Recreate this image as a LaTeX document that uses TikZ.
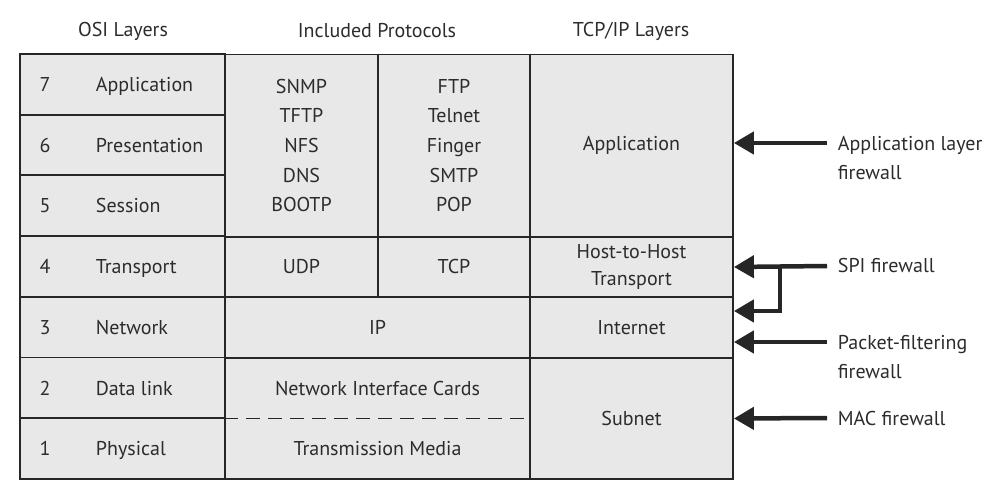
\documentclass[tikz,border=0pt]{standalone}
\usepackage{fontspec}
\setmainfont{PT Sans}
\usetikzlibrary{arrows.meta}
\definecolor{cellgray}{HTML}{E8E8E8}
\definecolor{inkgray}{HTML}{2C2C2C}
\begin{document}
\begin{tikzpicture}[x=1pt, y=-1pt, line width=1.8pt,
  cell/.style = {draw=black!85, fill=cellgray, inner sep=0pt},
  txt/.style = {font=\fontsize{20}{29.6}\selectfont, text=inkgray, align=center, inner sep=0pt},
  fwlabel/.style = {txt, align=left, anchor=west},
  fw/.style = {line width=4.5pt, black!85, -{Triangle[length=20pt,width=22pt]}}]
	\useasboundingbox (0,0) rectangle (1006,502);
	
	% column headings
	\node[txt] (hosi) at (123,31) {OSI Layers};
	\node[txt] (hprot) at (377,31) {Included Protocols};
	\node[txt] (htcp) at (631,31) {TCP/IP Layers};
	
	% OSI layers
	\foreach \n/\name [count=\i from 0] in {7/Application,6/Presentation,5/Session,4/Transport,3/Network,2/Data link,1/Physical}{
		\node[cell, minimum width=205pt, minimum height=60.7pt] (osi\n) at (122.5,{84.35+60.7*\i}) {};
		\node[txt, anchor=base] (num\n) at (45,{91.5+60.7*\i}) {\n};
		\node[txt, anchor=base west] (lay\n) at (95,{91.5+60.7*\i}) {\name};
	}
	
	% included protocols
	\node[cell, minimum width=153pt, minimum height=182pt] (udpapps) at (301.5,145.5) {};
	\node[txt] at (udpapps) {SNMP\\TFTP\\NFS\\DNS\\BOOTP};
	\node[cell, minimum width=152pt, minimum height=182pt] (tcpapps) at (454,145.5) {};
	\node[txt] at (tcpapps) {FTP\\Telnet\\Finger\\SMTP\\POP};
	\node[cell, minimum width=153pt, minimum height=60.7pt] (udp) at (301.5,267) {};
	\node[txt] at (udp) {UDP};
	\node[cell, minimum width=152pt, minimum height=60.7pt] (tcp) at (454,267) {};
	\node[txt] at (tcp) {TCP};
	\node[cell, minimum width=305pt, minimum height=60.7pt] (ip) at (377.5,327.5) {};
	\node[txt] at (ip) {IP};
	\node[cell, minimum width=305pt, minimum height=121.4pt] (link) at (377.5,418.5) {};
	\draw[dash pattern=on 14pt off 8pt, black!85] (link.west) -- (link.east);
	\node[txt] (nic) at (377.5,388.5) {Network Interface Cards};
	\node[txt] (media) at (377.5,449) {Transmission Media};
	
	% TCP/IP layers
	\node[cell, minimum width=203pt, minimum height=182pt] (tcpapp) at (631.5,145.5) {};
	\node[txt] at (tcpapp) {Application};
	\node[cell, minimum width=203pt, minimum height=60.7pt] (tcphost) at (631.5,267) {};
	\node[txt, font=\fontsize{20}{27}\selectfont] at (tcphost) {Host-to-Host\\Transport};
	\node[cell, minimum width=203pt, minimum height=60.7pt] (tcpnet) at (631.5,327.5) {};
	\node[txt] at (tcpnet) {Internet};
	\node[cell, minimum width=203pt, minimum height=121.4pt] (tcpsub) at (631.5,418.5) {};
	\node[txt] at (tcpsub) {Subnet};
	
	% firewalls
	\node[fwlabel] (appfw) at (837,158) {Application layer\\firewall};
	\node[fwlabel] (spifw) at (837,266) {SPI firewall};
	\node[fwlabel] (pktfw) at (837,357) {Packet-filtering\\firewall};
	\node[fwlabel] (macfw) at (837,418) {MAC firewall};
	\coordinate (append) at (827,143);
	\coordinate (spiend) at (827,266);
	\coordinate (spiknee) at (780,266);
	\coordinate (pktend) at (827,342);
	\coordinate (macend) at (827,418);
	
	\draw[fw] (append) -- ([yshift=2.5pt]tcpapp.east);
	\draw[fw] (spiend) -- (tcphost.east);
	\draw[fw] (spiknee) |- ([yshift=16.5pt]tcpnet.east);
	\draw[fw] (pktend) -- ([yshift=-14.5pt]tcpnet.east);
	\draw[fw] (macend) -- (tcpsub.east);
	
\end{tikzpicture}
\end{document}
